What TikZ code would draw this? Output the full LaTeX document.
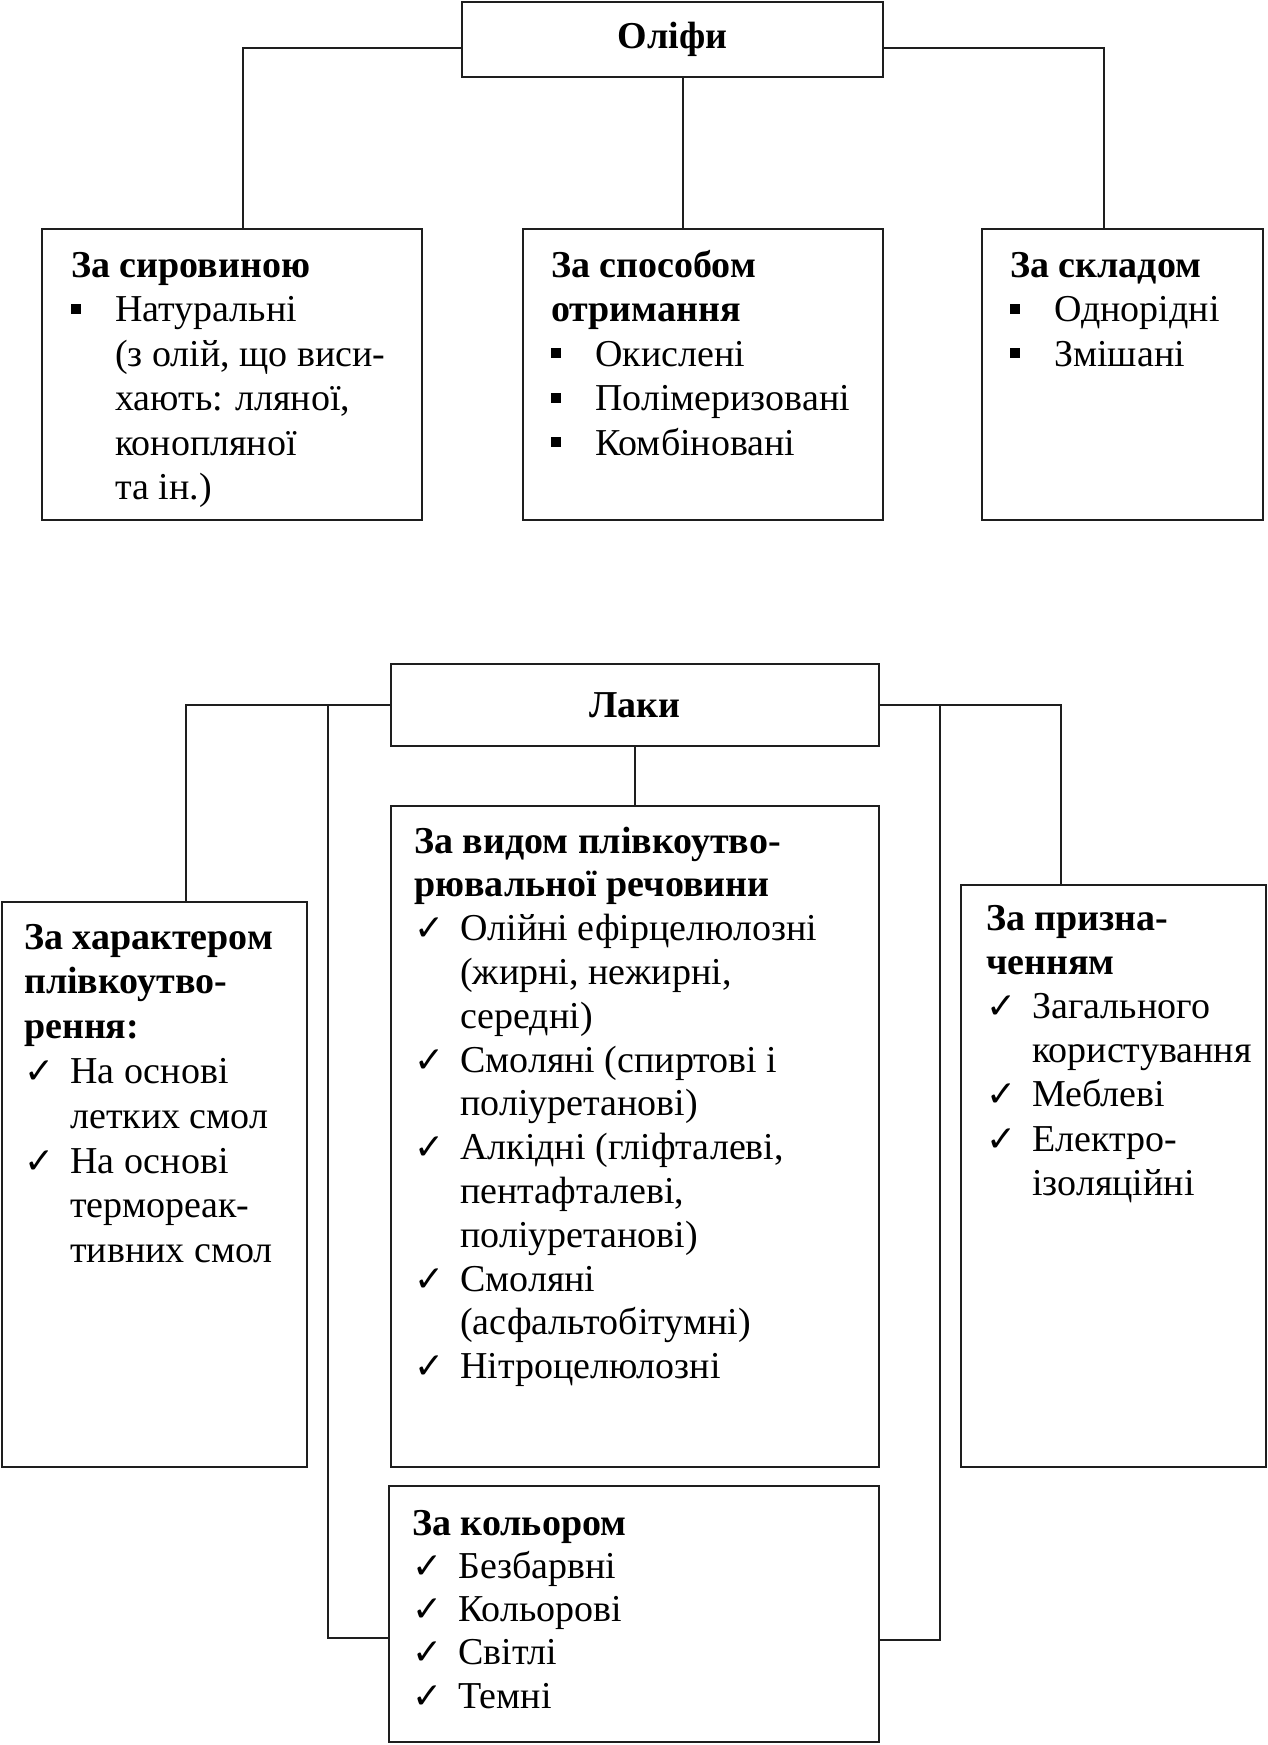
\documentclass[tikz,border=0pt]{standalone}
\usepackage{fontspec}
\setmainfont{Liberation Serif}
\newfontfamily\symfont{DejaVu Sans}
\usepackage{tikz}
\definecolor{inkline}{RGB}{30,30,30}
\newcommand\sqbul{\makebox[44pt][l]{\rule[8pt]{10pt}{10pt}}}
\newcommand\chkmark{\makebox[46pt][l]{{\symfont\fontsize{36}{36}\selectfont ✓}}}
\newcommand\cont{\hspace*{46pt}}
\newcommand\contb{\hspace*{44pt}}

\begin{document}
\begin{tikzpicture}[x=1pt,y=-1pt,
    box/.style={draw=inkline,line width=2.4pt,inner sep=0pt},
    link/.style={draw=inkline,line width=1.8pt},
    txt/.style={anchor=base west,inner sep=0pt,font=\fontsize{38}{44.5}\selectfont}]
        \useasboundingbox (0,0) rectangle (1268,1745);
        \fill[white] (0,0) rectangle (1268,1745);

        % Оліфи
        \node[box,minimum width=421pt,minimum height=75pt,font=\fontsize{38}{44.5}\selectfont\bfseries] (olifa) at (672.5,39.5) {Оліфи};
        \node[box,minimum width=380pt,minimum height=291pt] (syr) at (232,374.5) {};
        \node[box,minimum width=360pt,minimum height=291pt] (spos) at (703,374.5) {};
        \node[box,minimum width=281pt,minimum height=291pt] (sklad) at (1122.5,374.5) {};
        \draw[link] ([yshift=-8.5pt]olifa.west) -| ([xshift=11pt]syr.north);
        \draw[link] ([xshift=10.5pt]olifa.south) -- ([xshift=10.5pt]olifa.south |- spos.north);
        \draw[link] ([yshift=-8.5pt]olifa.east) -| ([xshift=-18.5pt]sklad.north);

        \node[txt] (syrtxt) at (71,277) {\parbox[t]{400pt}{\raggedright
            \textbf{За сировиною}\\
            \sqbul Натуральні\\
            \contb (з олій, що виси-\\
            \contb хають: лляної,\\
            \contb конопляної\\
            \contb та ін.)}};
        \node[txt] (spostxt) at (551,277) {\parbox[t]{400pt}{\raggedright
            \textbf{За способом}\\
            \textbf{отримання}\\
            \sqbul Окислені\\
            \sqbul Полімеризовані\\
            \sqbul Комбіновані}};
        \node[txt] (skladtxt) at (1010,277) {\parbox[t]{300pt}{\raggedright
            \textbf{За складом}\\
            \sqbul Однорідні\\
            \sqbul Змішані}};

        % Лаки
        \node[box,minimum width=488pt,minimum height=82pt,font=\fontsize{38}{44.5}\selectfont\bfseries] (laky) at (635,705) {Лаки};
        \node[box,minimum width=305pt,minimum height=565pt] (plivk) at (154.5,1184.5) {};
        \node[box,minimum width=488pt,minimum height=661pt] (vyd) at (635,1136.5) {};
        \node[box,minimum width=305pt,minimum height=582pt] (pryzn) at (1113.5,1176) {};
        \node[box,minimum width=490pt,minimum height=256pt] (kolir) at (634,1614) {};
        \coordinate (lbr) at (328,706);
        \coordinate (rbr) at (940,706);
        \draw[link] (laky.west) -| ([xshift=31.5pt]plivk.north);
        \draw[link] (laky.east) -| ([xshift=-52.5pt]pryzn.north);
        \draw[link] (laky.south) -- (vyd.north);
        \draw[link] (lbr) |- ([yshift=-24pt]kolir.west);
        \draw[link] (rbr) |- ([yshift=-26pt]kolir.east);

        \node[txt,font=\fontsize{38}{44.8}\selectfont] (plivktxt) at (24,949) {\parbox[t]{300pt}{\raggedright
            \textbf{За характером}\\
            \textbf{плівкоутво-}\\
            \textbf{рення:}\\
            \chkmark На основі\\
            \cont летких смол\\
            \chkmark На основі\\
            \cont термореак-\\
            \cont тивних смол}};
        \node[txt,font=\fontsize{38}{43.8}\selectfont] (vydtxt) at (414,853) {\parbox[t]{480pt}{\raggedright
            \textbf{За видом плівкоутво-}\\
            \textbf{рювальної речовини}\\
            \chkmark Олійні ефірцелюлозні\\
            \cont (жирні, нежирні,\\
            \cont середні)\\
            \chkmark Смоляні (спиртові і\\
            \cont поліуретанові)\\
            \chkmark Алкідні (гліфталеві,\\
            \cont пентафталеві,\\
            \cont поліуретанові)\\
            \chkmark Смоляні\\
            \cont (асфальтобітумні)\\
            \chkmark Нітроцелюлозні}};
        \node[txt,font=\fontsize{38}{44.2}\selectfont] (pryzntxt) at (986,930) {\parbox[t]{300pt}{\raggedright
            \textbf{За призна-}\\
            \textbf{ченням}\\
            \chkmark Загального\\
            \cont користування\\
            \chkmark Меблеві\\
            \chkmark Електро-\\
            \cont ізоляційні}};
        \node[txt,font=\fontsize{38}{43.3}\selectfont] (kolirtxt) at (412,1535) {\parbox[t]{480pt}{\raggedright
            \textbf{За кольором}\\
            \chkmark Безбарвні\\
            \chkmark Кольорові\\
            \chkmark Світлі\\
            \chkmark Темні}};
      \end{tikzpicture}
\end{document}
